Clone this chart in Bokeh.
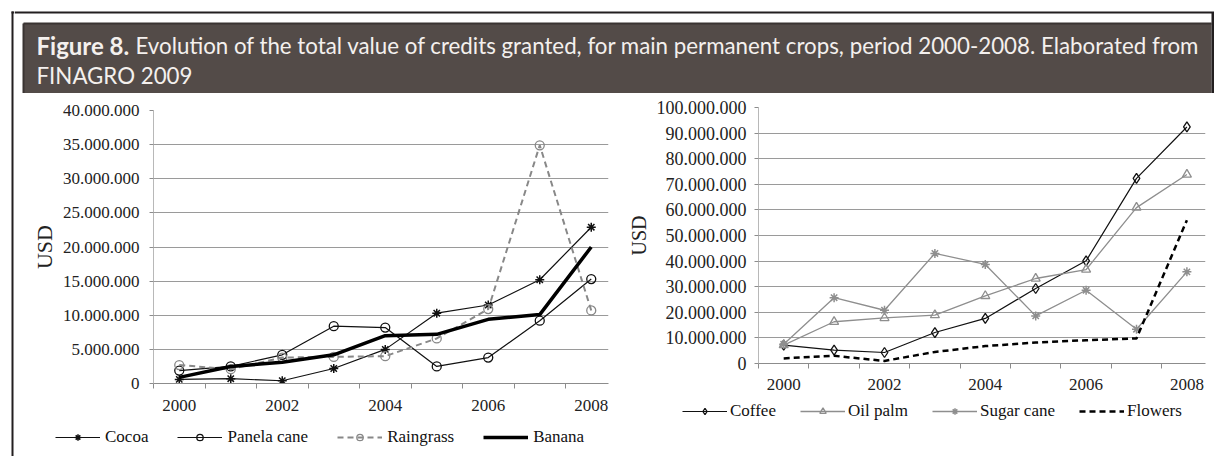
from bokeh.plotting import figure
from bokeh.models import Range1d, FixedTicker, Legend, LegendItem
from bokeh.layouts import row, column
from bokeh.embed import file_html
from bokeh.resources import INLINE
from bokeh.core.properties import value

# ---------------- data ----------------
years = [2000, 2001, 2002, 2003, 2004, 2005, 2006, 2007, 2008]

cocoa = [0.6e6, 0.7e6, 0.4e6, 2.2e6, 5.0e6, 10.3e6, 11.5e6, 15.2e6, 22.9e6]
panela_cane = [1.9e6, 2.5e6, 4.2e6, 8.4e6, 8.2e6, 2.5e6, 3.8e6, 9.2e6, 15.3e6]
raingrass = [2.7e6, 2.1e6, 3.8e6, 3.9e6, 4.0e6, 6.6e6, 10.9e6, 34.9e6, 10.7e6]
banana = [0.9e6, 2.5e6, 3.1e6, 4.2e6, 7.0e6, 7.2e6, 9.4e6, 10.1e6, 20.0e6]

coffee = [7.2e6, 5.2e6, 4.3e6, 12.1e6, 17.6e6, 29.3e6, 40.1e6, 72.3e6, 92.4e6]
oil_palm = [7.2e6, 16.3e6, 17.8e6, 18.9e6, 26.4e6, 33.2e6, 36.7e6, 60.9e6, 73.8e6]
sugar_cane = [7.5e6, 25.7e6, 20.8e6, 43.0e6, 38.7e6, 18.6e6, 28.6e6, 13.4e6, 35.8e6]
flowers = [2.0e6, 3.0e6, 1.0e6, 4.5e6, 6.8e6, 8.2e6, 9.1e6, 9.8e6, 56.0e6]

x_label_years = [2000, 2002, 2004, 2006, 2008]
x_labels = ["2000", "2002", "2004", "2006", "2008"]

left_y_ticks = [0, 5e6, 10e6, 15e6, 20e6, 25e6, 30e6, 35e6, 40e6]
left_y_labels = ["0", "5.000.000", "10.000.000", "15.000.000", "20.000.000",
                 "25.000.000", "30.000.000", "35.000.000", "40.000.000"]
right_y_ticks = [0, 10e6, 20e6, 30e6, 40e6, 50e6, 60e6, 70e6, 80e6, 90e6, 100e6]
right_y_labels = ["0", "10.000.000", "20.000.000", "30.000.000", "40.000.000",
                  "50.000.000", "60.000.000", "70.000.000", "80.000.000",
                  "90.000.000", "100.000.000"]

left_names = ["Cocoa", "Panela cane", "Raingrass", "Banana"]
right_names = ["Coffee", "Oil palm", "Sugar cane", "Flowers"]

title_bold = "Figure 8."
title_line1 = "Evolution of the total value of credits granted, for main permanent crops, period 2000-2008. Elaborated from"
title_line2 = "FINAGRO 2009"
axis_title = "USD"

SERIF = "Liberation Serif"
GRAY = "#8c8c8c"
BLACK = "#111111"
LGRAY = "#8e8e8e"

# ---------------- frame strip (left border) ----------------
strip = figure(width=14, height=456, x_range=Range1d(0, 14), y_range=Range1d(456, 0),
               x_axis_type=None, y_axis_type=None, output_backend="svg",
               toolbar_location=None, min_border=0, outline_line_color=None,
               frame_align=False)
strip.segment(x0=[12, 11], y0=[11, 12], x1=[12, 14], y1=[456, 12], line_width=2,
              line_color="#231f20")

# ---------------- banner ----------------
banner = figure(width=1200, height=93, x_range=Range1d(0, 1200), y_range=Range1d(93, 0),
                x_axis_type=None, y_axis_type=None, output_backend="svg",
                toolbar_location=None, min_border=0, outline_line_color=None,
                frame_align=False)
banner.segment(x0=[0], y0=[12], x1=[1200], y1=[12], line_width=2, line_color="#231f20")
banner.quad(left=[9], right=[1197], top=[23], bottom=[93], fill_color="#534b48", line_color=None)
banner.segment(x0=[9, 9], y0=[23, 23], x1=[1197, 9], y1=[23, 93], line_width=2,
               line_color="#3a3432")
banner.segment(x0=[1198.5], y0=[12], x1=[1198.5], y1=[93], line_width=3, line_color="#231f20")
banner.text(x=[22], y=[45], text=[title_bold], text_font=value("Lato"), text_font_style="bold",
            text_font_size="24px", text_color="#f4f0ee", text_baseline="alphabetic")
banner.text(x=[121], y=[45], text=[title_line1], text_font=value("Lato"),
            text_font_size="22.3px", text_color="#f4f0ee", text_baseline="alphabetic")
banner.text(x=[22], y=[75], text=[title_line2], text_font=value("Lato"),
            text_font_size="22.3px", text_color="#f4f0ee", text_baseline="alphabetic")


def make_chart(width, height, x_end, y_end, yticks, ylabels, mbl, mbr, mbt, mbb,
               xtick_font, ytick_font, title_font, xstand, ystand, title_stand):
    p = figure(width=width, height=height, x_range=Range1d(1999.5, x_end),
               y_range=Range1d(0, y_end), output_backend="svg", toolbar_location=None,
               min_border_left=mbl, min_border_right=mbr, min_border_top=mbt,
               min_border_bottom=mbb, outline_line_color=None, frame_align=False)
    bounds = [y - 0.5 for y in years] + [years[-1] + 0.5]
    p.xaxis.ticker = FixedTicker(ticks=x_label_years, minor_ticks=bounds)
    p.xaxis.major_label_overrides = {y: s for y, s in zip(x_label_years, x_labels)}
    p.xaxis.major_tick_line_color = None
    p.xaxis.major_tick_in = 0
    p.xaxis.major_tick_out = 0
    p.xaxis.minor_tick_line_color = GRAY
    p.xaxis.minor_tick_in = 0
    p.xaxis.minor_tick_out = 5
    p.xaxis.axis_line_color = GRAY
    p.xaxis.major_label_standoff = xstand
    p.xaxis.major_label_text_font = SERIF
    p.xaxis.major_label_text_font_size = xtick_font
    p.xaxis.major_label_text_color = "#222222"

    p.yaxis.ticker = FixedTicker(ticks=yticks)
    p.yaxis.major_label_overrides = {t: s for t, s in zip(yticks, ylabels)}
    p.yaxis.major_tick_in = 0
    p.yaxis.major_tick_out = 4
    p.yaxis.major_tick_line_color = GRAY
    p.yaxis.minor_tick_line_color = None
    p.yaxis.axis_line_color = "#b8b8b8"
    p.yaxis.major_label_standoff = ystand
    p.yaxis.major_label_text_font = SERIF
    p.yaxis.major_label_text_font_size = ytick_font
    p.yaxis.major_label_text_color = "#222222"
    p.yaxis.axis_label = axis_title
    p.yaxis.axis_label_text_font = SERIF
    p.yaxis.axis_label_text_font_style = "normal"
    p.yaxis.axis_label_text_font_size = title_font
    p.yaxis.axis_label_text_color = "#222222"
    p.yaxis.axis_label_standoff = title_stand

    p.xgrid.grid_line_color = None
    p.ygrid.ticker = FixedTicker(ticks=yticks)
    p.ygrid.grid_line_color = "#9a9a9a"
    p.ygrid.grid_line_width = 1
    return p


def legend_fig(width, height):
    # a frame-only figure whose ranges hold none of the data: it shows just the legend
    f = figure(width=width, height=height, x_range=Range1d(0, 1), y_range=Range1d(0, 1),
               x_axis_type=None, y_axis_type=None, output_backend="svg",
               toolbar_location=None, min_border=0, outline_line_color=None,
               frame_align=False)
    return f


def draw_left(p, xs, s1, s2, s3, s4):
    a = [p.line(xs, s1, line_color=BLACK, line_width=1.2),
         p.scatter(xs, s1, marker="asterisk", size=9, line_color=BLACK, line_width=1.5)]
    b = [p.line(xs, s2, line_color=BLACK, line_width=1.2),
         p.scatter(xs, s2, marker="circle", size=9, line_color=BLACK, fill_color=None,
                   line_width=1.3)]
    c = [p.line(xs, s3, line_color="#888888", line_width=2, line_dash="6 4"),
         p.scatter(xs, s3, marker="circle", size=9, line_color="#888888", fill_color=None,
                   line_width=1.3)]
    d = [p.line(xs, s4, line_color="#000000", line_width=3.5)]
    return [a, b, c, d]


def draw_right(p, xs, s1, s2, s3, s4):
    a = [p.line(xs, s1, line_color=BLACK, line_width=1.2),
         p.scatter(xs, s1, marker="diamond", size=10, line_color=BLACK, fill_color=None,
                   line_width=1.3)]
    b = [p.line(xs, s2, line_color=LGRAY, line_width=1.3),
         p.scatter(xs, s2, marker="triangle", size=9, line_color=LGRAY, fill_color=None,
                   line_width=1.3)]
    c = [p.line(xs, s3, line_color=LGRAY, line_width=1.3),
         p.scatter(xs, s3, marker="asterisk", size=9, line_color=LGRAY, line_width=1.5)]
    d = [p.line(xs, s4, line_color="#000000", line_width=2.5, line_dash="6 4")]
    return [a, b, c, d]


def make_legend(fig, groups, names, loc, standoff, spacing):
    leg = Legend(items=[LegendItem(label=n, renderers=g) for n, g in zip(names, groups)],
                 location=loc, orientation="horizontal", glyph_width=45, glyph_height=16,
                 label_standoff=standoff, spacing=spacing, padding=0, margin=0,
                 border_line_color=None, background_fill_alpha=0,
                 label_text_font=SERIF, label_text_font_size="17px",
                 label_text_color="#111111", label_text_baseline="middle")
    fig.add_layout(leg, "center")


# ---------------- left chart ----------------
left = make_chart(606, 325, 1999.5 + 455 / 51.5, 40e6, left_y_ticks, left_y_labels,
                  139, 12, 17, 35, "17px", "17px", "22px", 11, 10, 3)
draw_left(left, years, cocoa, panela_cane, raingrass, banana)
left_leg = legend_fig(606, 38)
lg = draw_left(left_leg, years, cocoa, panela_cane, raingrass, banana)
make_legend(left_leg, lg, left_names, (41, 9), 5, 29)

# ---------------- right chart ----------------
right = make_chart(594, 302, 1999.5 + 447 / 50.4, 100e6, right_y_ticks, right_y_labels,
                   138, 9, 14, 32, "17px", "18px", "20px", 10, 8, 4)
draw_right(right, years, coffee, oil_palm, sugar_cane, flowers)
right_leg = legend_fig(594, 61)
rg = draw_right(right_leg, years, coffee, oil_palm, sugar_cane, flowers)
make_legend(right_leg, rg, right_names, (62, 35), 3, 24)

page = row(strip,
           column(banner,
                  row(column(left, left_leg, spacing=0),
                      column(right, right_leg, spacing=0), spacing=0),
                  spacing=0),
           spacing=0)
open("out.html", "w").write(file_html(page, INLINE))
